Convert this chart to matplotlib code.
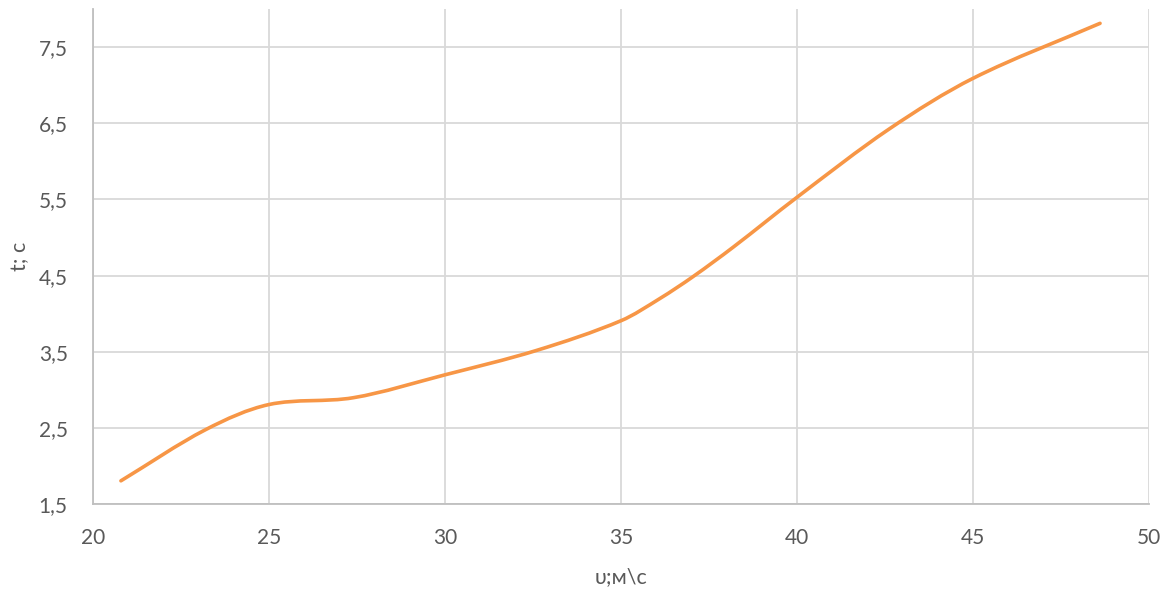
import numpy as np
import matplotlib.pyplot as plt
from matplotlib.path import Path
from matplotlib.patches import PathPatch

# speed, m/s and time, s
speed = [20.8, 23.2, 25.0, 27.4, 30.0, 32.6, 35.0, 36.1, 37.05, 38.2, 40.0, 42.6, 45.0, 48.6]
time_s = [1.81, 2.48, 2.81, 2.90, 3.20, 3.52, 3.91, 4.20, 4.49, 4.88, 5.53, 6.42, 7.09, 7.81]

x_ticks = [20, 25, 30, 35, 40, 45, 50]
y_ticks = [1.5, 2.5, 3.5, 4.5, 5.5, 6.5, 7.5]

LINE = "#F79646"
GRID = "#D9D9D9"
TXT = "#595959"

plt.rcParams['font.family'] = ['Lato', 'DejaVu Sans']


def smooth_path(xs, ys):
    # smoothed line: cubic bezier through every point, slopes from neighbours
    xs = np.asarray(xs, float)
    ys = np.asarray(ys, float)
    n = len(xs)
    m = np.empty(n)
    m[0] = (ys[1] - ys[0]) / (xs[1] - xs[0])
    m[-1] = (ys[-1] - ys[-2]) / (xs[-1] - xs[-2])
    m[1:-1] = (ys[2:] - ys[:-2]) / (xs[2:] - xs[:-2])
    verts = [(xs[0], ys[0])]
    codes = [Path.MOVETO]
    for i in range(n - 1):
        h = (xs[i + 1] - xs[i]) / 3
        verts += [(xs[i] + h, ys[i] + h * m[i]),
                  (xs[i + 1] - h, ys[i + 1] - h * m[i + 1]),
                  (xs[i + 1], ys[i + 1])]
        codes += [Path.CURVE4] * 3
    return Path(verts, codes)


fig, ax = plt.subplots(figsize=(11.74, 5.9), dpi=100)
fig.subplots_adjust(left=0.079, right=0.979, top=0.985, bottom=0.145)

ax.add_patch(PathPatch(smooth_path(speed, time_s), facecolor="none",
                       edgecolor=LINE, lw=2.6, capstyle="round", zorder=3))

ax.set_xlim(20, 50)
ax.set_ylim(1.5, 8.0)
ax.set_xticks(x_ticks)
ax.set_yticks(y_ticks)
ax.set_yticklabels([f"{v:.1f}".replace(".", ",") for v in y_ticks])
ax.grid(True, color=GRID, lw=1.3)
ax.set_axisbelow(True)

for s in ["top", "right"]:
    ax.spines[s].set_visible(False)
for s in ["left", "bottom"]:
    ax.spines[s].set_color("#BFBFBF")
    ax.spines[s].set_linewidth(1.3)

ax.tick_params(length=0, labelsize=15, colors=TXT)
ax.tick_params(axis="x", pad=17)
ax.tick_params(axis="y", pad=18)
ax.set_xlabel("υ;м\\с", fontsize=15.5, color=TXT, labelpad=14)
ax.set_ylabel("t; c", fontsize=15.5, color=TXT, labelpad=6)

fig.savefig("out.png")
